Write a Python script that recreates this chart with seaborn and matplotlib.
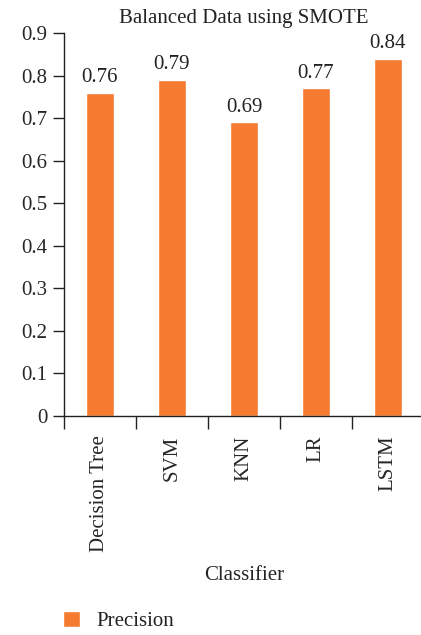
import matplotlib
matplotlib.use("Agg")
import matplotlib.pyplot as plt
import seaborn as sns
import pandas as pd
import numpy as np

# values
classifiers = ["Decision Tree", "SVM", "KNN", "LR", "LSTM"]
precision = [0.76, 0.79, 0.69, 0.77, 0.84]
y_ticks = [0, 0.1, 0.2, 0.3, 0.4, 0.5, 0.6, 0.7, 0.8, 0.9]
y_tick_labels = ["0", "0.1", "0.2", "0.3", "0.4", "0.5", "0.6", "0.7", "0.8", "0.9"]

sns.set_style("white")
plt.rcParams['font.family'] = ['Liberation Serif', 'DejaVu Serif']
plt.rcParams['text.color'] = '#222222'

fs = 15

df = pd.DataFrame({"Classifier": classifiers, "Precision": precision})

fig = plt.figure(figsize=(4.21, 6.35), dpi=100)
ax = fig.add_axes([0.152, 0.345, 0.855, 0.603])

sns.barplot(data=df, x="Classifier", y="Precision", color="#F47B30",
            width=0.4, saturation=1, ax=ax, label="Precision")

# value labels above bars
ax.bar_label(ax.containers[0], labels=[f"{v:.2f}" for v in precision],
             padding=4, fontsize=fs)

ax.set_ylim(0, 0.9)
ax.set_xlim(-0.5, len(classifiers) - 0.5)
ax.set_yticks(y_ticks)
ax.set_yticklabels(y_tick_labels, fontsize=fs)
ax.set_xticks(range(len(classifiers)))
ax.set_xticklabels(classifiers, rotation=90, fontsize=fs)
ax.set_xticks(np.arange(len(classifiers)) - 0.5, minor=True)

ax.tick_params(axis="y", which="major", direction="out", length=8, width=1,
               color="#222222", left=True, pad=4)
ax.tick_params(axis="x", which="major", length=0, pad=14)
ax.tick_params(axis="x", which="minor", direction="out", length=9, width=1,
               color="#222222", bottom=True)

for s in ["top", "right"]:
    ax.spines[s].set_visible(False)
for s in ["left", "bottom"]:
    ax.spines[s].set_color("#222222")
    ax.spines[s].set_linewidth(1)

ax.set_title("Balanced Data using SMOTE", fontsize=fs, pad=7)
ax.set_xlabel("Classifier", fontsize=fs, labelpad=10)
ax.set_ylabel("")

handles, labels = ax.get_legend_handles_labels()
if ax.get_legend() is not None:
    ax.get_legend().remove()
fig.legend(handles, labels, loc="lower left", bbox_to_anchor=(0.106, -0.024),
           frameon=False, fontsize=fs, handlelength=0.8, handleheight=0.8,
           handletextpad=0.8)

fig.savefig("out.png", dpi=100)
